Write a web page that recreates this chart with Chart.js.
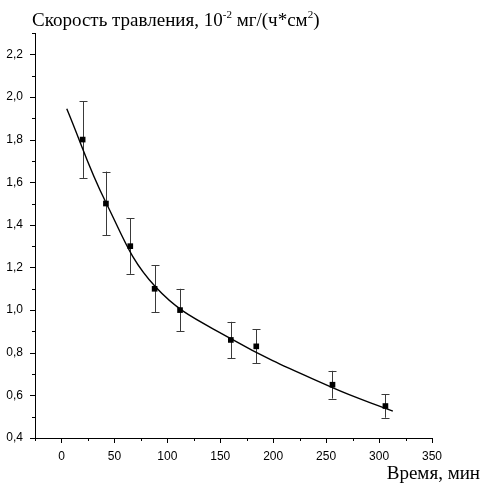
<!DOCTYPE html>
<html>
<head>
<meta charset="utf-8">
<script src="https://cdn.jsdelivr.net/npm/chart.js@4/dist/chart.umd.min.js"></script>
<style>
  body { margin: 0; background: #fff; }
  #wrap { position: relative; width: 481px; height: 485px; }
  .lbl { position: absolute; font-family: "Liberation Serif", "Times New Roman", serif; color: #000; white-space: nowrap; line-height: 1; font-size: 19px; }
  .lbl sup { font-size: 58%; vertical-align: 0; position: relative; top: -0.75em; }
  #ytitle { left: 32px; top: 10px; }
  #xtitle { right: 1px; top: 463px; }
</style>
</head>
<body>
<div id="wrap">
  <canvas id="chart" width="481" height="485"></canvas>
  <div class="lbl" id="ytitle">Скорость травления, 10<sup>-2</sup> мг/(ч*см<sup>2</sup>)</div>
  <div class="lbl" id="xtitle">Время, мин</div>
</div>
<script>
// measured points (time, rate) with +/- errors
const times = [20, 42, 65, 88, 112, 160, 184, 256, 306];
const rates = [1.80, 1.50, 1.30, 1.10, 1.00, 0.86, 0.83, 0.65, 0.55];
const errs = [0.18, 0.15, 0.13, 0.11, 0.10, 0.085, 0.08, 0.065, 0.055];

// fitted curve, a few points
const fitX = [5, 42, 89, 160, 256, 313];
const fitY = [1.945, 1.505, 1.108, 0.866, 0.636, 0.526];

const fmt = (v) => v.toFixed(1).replace(".", ",");

// error bars under the markers
const errorBars = {
  id: "errorBars",
  beforeDatasetsDraw(chart) {
    const { ctx, scales: { x, y } } = chart;
    ctx.save();
    ctx.strokeStyle = "#3a3a3a";
    ctx.lineWidth = 1;
    times.forEach((t, i) => {
      const px = Math.round(x.getPixelForValue(t)) + 0.5;
      const top = y.getPixelForValue(rates[i] + errs[i]);
      const bot = y.getPixelForValue(rates[i] - errs[i]);
      ctx.beginPath();
      ctx.moveTo(px, top);
      ctx.lineTo(px, bot);
      ctx.moveTo(px - 4, Math.round(top) + 0.5);
      ctx.lineTo(px + 4, Math.round(top) + 0.5);
      ctx.moveTo(px - 4, Math.round(bot) + 0.5);
      ctx.lineTo(px + 4, Math.round(bot) + 0.5);
      ctx.stroke();
    });
    ctx.restore();
  },
};

// outward major / minor tick marks
const tickMarks = {
  id: "tickMarks",
  afterDraw(chart) {
    const { ctx, scales: { x, y } } = chart;
    ctx.save();
    ctx.strokeStyle = "#000";
    ctx.lineWidth = 1;
    ctx.beginPath();
    x.ticks.forEach((tk) => {
      const px = Math.round(x.getPixelForValue(tk.value)) + 0.5;
      const len = tk.label !== "" ? 5 : 3;
      ctx.moveTo(px, x.top);
      ctx.lineTo(px, x.top + len);
    });
    y.ticks.forEach((tk) => {
      const py = Math.round(y.getPixelForValue(tk.value)) + 0.5;
      const len = tk.label !== "" ? 5 : 3;
      ctx.moveTo(y.right, py);
      ctx.lineTo(y.right - len, py);
    });
    ctx.stroke();
    ctx.restore();
  },
};

const ctx = document.getElementById("chart").getContext("2d");
new Chart(ctx, {
  type: "scatter",
  data: {
    datasets: [
      {
        type: "line",
        data: fitX.map((v, i) => ({ x: v, y: fitY[i] })),
        borderColor: "#000",
        borderWidth: 1.4,
        pointRadius: 0,
        tension: 0.4,
        fill: false,
      },
      {
        data: times.map((v, i) => ({ x: v, y: rates[i] })),
        pointStyle: "rect",
        pointRadius: 4,
        backgroundColor: "#000",
        borderColor: "#000",
        borderWidth: 0,
      },
    ],
  },
  options: {
    responsive: false,
    animation: false,
    layout: { padding: { top: 33, right: 49, left: 0, bottom: 0 } },
    plugins: { legend: { display: false }, tooltip: { enabled: false } },
    scales: {
      x: {
        type: "linear",
        min: -25,
        max: 350,
        afterFit: (s) => { s.height = 47; },
        grid: { drawOnChartArea: false, drawTicks: false },
        border: { display: true, color: "#000", width: 1 },
        ticks: {
          stepSize: 25,
          padding: 11,
          color: "#000",
          font: { family: "Liberation Sans, Arial", size: 12 },
          maxRotation: 0,
          autoSkip: false,
          callback: (v) => (v % 50 === 0 ? String(v) : ""),
        },
      },
      y: {
        type: "linear",
        min: 0.4,
        max: 2.3,
        afterFit: (s) => { s.width = 35; },
        grid: { drawOnChartArea: false, drawTicks: false },
        border: { display: true, color: "#000", width: 1 },
        ticks: {
          stepSize: 0.1,
          padding: 12,
          color: "#000",
          font: { family: "Liberation Sans, Arial", size: 12 },
          autoSkip: false,
          callback: (v) => (Math.round(v * 10) % 2 === 0 ? fmt(v) : ""),
        },
      },
    },
  },
  plugins: [errorBars, tickMarks],
});
</script>
</body>
</html>
